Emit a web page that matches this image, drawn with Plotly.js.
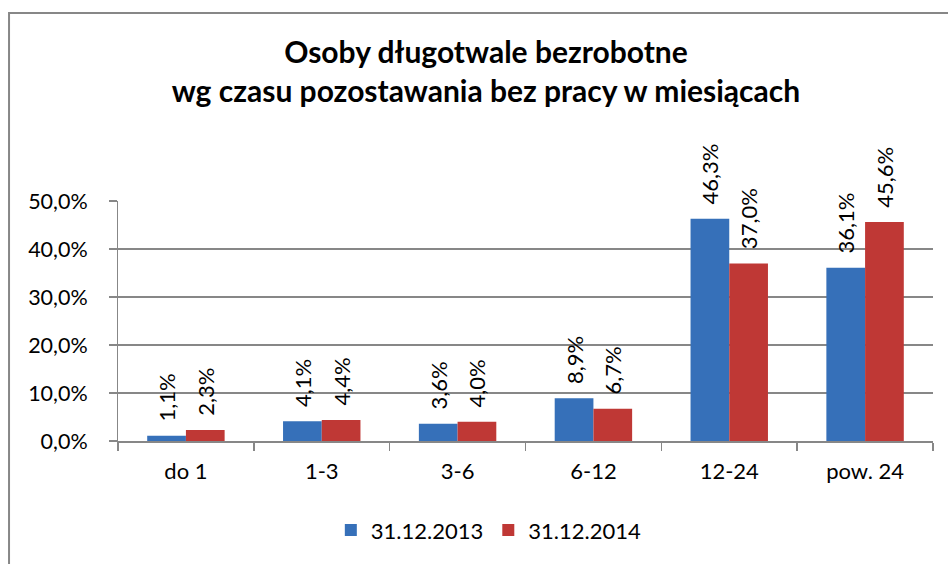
<!DOCTYPE html>
<html>
<head>
<meta charset="utf-8">
<script src="https://cdn.plot.ly/plotly-3.0.1.min.js"></script>
<style>
  html, body { margin: 0; padding: 0; background: #ffffff; }
  #chart { width: 948px; height: 564px; }
</style>
</head>
<body>
<div id="chart"></div>
<script>
const categories = ["do 1", "1-3", "3-6", "6-12", "12-24", "pow. 24"];
const series2013 = [1.1, 4.1, 3.6, 8.9, 46.3, 36.1];
const series2014 = [2.3, 4.4, 4.0, 6.7, 37.0, 45.6];
const seriesNames = ["31.12.2013", "31.12.2014"];
const yTickVals = [0, 10, 20, 30, 40, 50];
const yTickLabels = ["0,0%", "10,0%", "20,0%", "30,0%", "40,0%", "50,0%"];

const FONT = "Lato, 'Open Sans', sans-serif";
const labelFont = { family: FONT, size: 22, color: "#000000" };
const PAD = "\u00a0\u00a0\u00a0";

function barTrace(name, values, color) {
  return {
    type: "bar",
    name: name,
    x: categories,
    y: values,
    marker: { color: color, line: { width: 0 } },
    texttemplate: "\u00a0\u00a0%{y:.1f}%",
    textposition: "outside",
    textangle: -90,
    textfont: labelFont,
    constraintext: "none",
    cliponaxis: false,
    hoverinfo: "skip"
  };
}

const data = [
  barTrace(seriesNames[0], series2013, "#3670b9"),
  barTrace(seriesNames[1], series2014, "#bf3835")
];

const layout = {
  width: 948,
  height: 564,
  paper_bgcolor: "#ffffff",
  plot_bgcolor: "#ffffff",
  separators: ", ",
  margin: { l: 118, r: 15, t: 201, b: 123 },
  font: { family: FONT, size: 22, color: "#000000" },
  title: {
    text: "<b>Osoby długotwale bezrobotne<br>wg czasu pozostawania bez pracy w miesiącach</b>",
    font: { family: FONT, size: 30, color: "#000000" },
    x: 0.4515, xref: "paper", xanchor: "center",
    y: 0.888, yref: "container", yanchor: "top"
  },
  bargap: 0.43,
  bargroupgap: 0,
  barmode: "group",
  xaxis: {
    type: "category",
    showline: true,
    linecolor: "#878787",
    linewidth: 1.5,
    ticks: "outside",
    tickson: "boundaries",
    ticklen: 8,
    tickcolor: "#878787",
    tickwidth: 1.5,
    ticklabelstandoff: 10,
    tickfont: { family: FONT, size: 22, color: "#000000" },
    showgrid: false,
    zeroline: false,
    fixedrange: true
  },
  yaxis: {
    range: [0, 50],
    tickvals: yTickVals,
    ticktext: yTickLabels.map(t => t + PAD),
    showline: true,
    linecolor: "#878787",
    linewidth: 1.5,
    ticks: "outside",
    ticklen: 8,
    tickcolor: "#878787",
    tickwidth: 1.5,
    showgrid: true,
    gridcolor: "#878787",
    gridwidth: 1.5,
    zeroline: false,
    tickfont: { family: FONT, size: 21.5, color: "#000000" },
    fixedrange: true
  },
  legend: {
    orientation: "h",
    x: 0.455, xanchor: "center", xref: "paper",
    y: 0.06, yanchor: "middle", yref: "container",
    font: { family: FONT, size: 22, color: "#000000" },
    itemwidth: 30,
    traceorder: "normal"
  },
  showlegend: true,
  shapes: [{
    type: "rect",
    xref: "paper", yref: "paper",
    x0: -0.1337, x1: 1.2,
    y0: -1.0, y1: 1.783,
    line: { color: "#878787", width: 2 },
    fillcolor: "rgba(0,0,0,0)",
    layer: "below"
  }]
};

Plotly.newPlot("chart", data, layout, { staticPlot: true, displayModeBar: false });
</script>
</body>
</html>
